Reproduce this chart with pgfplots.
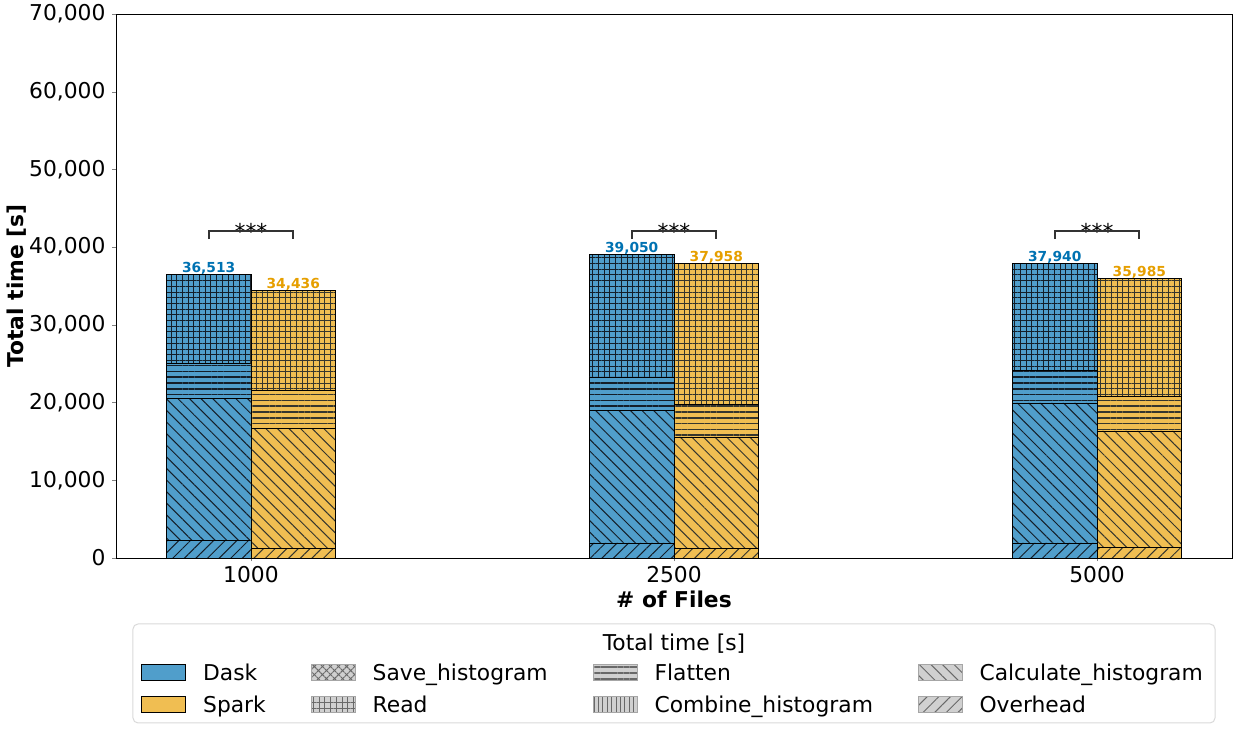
\documentclass[border=0pt]{standalone}
\usepackage{fontspec}
\setmainfont{DejaVu Sans}
\usepackage{pgfplots}
\pgfplotsset{compat=1.18}
\usetikzlibrary{patterns.meta}

\definecolor{daskfill}{RGB}{80,158,203}
\definecolor{sparkfill}{RGB}{240,190,82}
\definecolor{dasktext}{RGB}{0,114,178}
\definecolor{sparktext}{RGB}{230,159,0}
\definecolor{hatchdark}{RGB}{20,30,40}
\definecolor{leggray}{RGB}{208,208,208}
\definecolor{leghatch}{RGB}{105,105,105}

\tikzset{
 pOver/.style={pattern={Lines[angle=45,distance=4.1pt,line width=0.5pt]}},
 pCalc/.style={pattern={Lines[angle=-45,distance=4.1pt,line width=0.5pt]}},
 pFlat/.style={pattern={Lines[angle=0,distance=2.9pt,line width=0.75pt]}},
 pRead/.style={pattern={Hatch[angle=0,distance=2.85pt,line width=0.5pt]}},
 pSave/.style={pattern={Hatch[angle=45,distance=2.85pt,line width=0.45pt]}},
 pComb/.style={pattern={Lines[angle=90,distance=2.2pt,line width=0.5pt]}},
 dbar/.style={preaction={fill=daskfill}, draw=black, line width=0.4pt, pattern color=hatchdark, #1},
 sbar/.style={preaction={fill=sparkfill}, draw=black, line width=0.4pt, pattern color=hatchdark!85!sparkfill, #1},
 lhatch/.style={preaction={fill=leggray}, draw=leggray!80!black, line width=0.3pt, pattern color=leghatch, #1},
 brk/.style={line width=1pt, black!80},
 ast/.style={anchor=base, inner sep=0pt, font=\fontsize{10.9}{13}\selectfont, yshift=-4.35pt},
 tot/.style={anchor=base, inner sep=0pt, yshift=0.85pt, font=\bfseries\fontsize{6.9}{8}\selectfont},
}

\pgfplotsset{
 common/.style={
  scale only axis, width=558pt, height=272pt,
  xmin=-0.319, xmax=2.319, ymin=0, ymax=70000,
  enlargelimits=false,
  ybar stacked, bar width=0.2,
 },
}

\newcommand{\lblfont}{\fontsize{10.9}{13}\selectfont}

\begin{document}
\begin{tikzpicture}
\begin{axis}[
 common,
 xtick={0,1,2}, xticklabels={1000,2500,5000},
 ytick={0,10000,20000,30000,40000,50000,60000,70000},
 scaled y ticks=false,
 /pgf/number format/1000 sep={,},
 /pgf/number format/assume math mode=true,
 tick label style={font=\lblfont},
 xticklabel style={yshift=1pt},
 tick align=outside, major tick length=1.75pt,
 xtick pos=bottom, ytick pos=left,
 xlabel={\bfseries \# of Files},
 ylabel={\bfseries Total time [s]},
 every axis x label/.style={at={(axis description cs:0.5,0)}, yshift=-20.5pt, anchor=center, font=\lblfont},
 every axis y label/.style={at={(axis description cs:0,0.5)}, xshift=-49.5pt, rotate=90, anchor=center, font=\lblfont},
 legend columns=4,
 legend cell align=left,
 legend image code/.code={\draw[#1] (0pt,-3.3pt) rectangle (22pt,4.7pt); \path (28.5pt,0pt);},
 legend style={at={(axis description cs:0,0)}, anchor=north west, xshift=12.5pt, yshift=-51pt,
   draw=none, fill=none, font=\lblfont, inner sep=0pt, row sep=2pt,
   /tikz/every even column/.append style={column sep=20.5pt}},
]
% Dask stacks: Overhead, Calculate_histogram, Flatten, Read
\addplot[forget plot, dbar=pOver] coordinates {(-0.1,2278) (0.9,1930) (1.9,1930)};
\addplot[forget plot, dbar=pCalc] coordinates {(-0.1,18275) (0.9,17074) (1.9,18020)};
\addplot[forget plot, dbar=pFlat] coordinates {(-0.1,4503) (0.9,4288) (1.9,4203)};
\addplot[forget plot, dbar=pRead] coordinates {(-0.1,11457) (0.9,15758) (1.9,13787)};

\addlegendimage{preaction={fill=daskfill}, draw=black, line width=0.4pt}
\addlegendentry{Dask}
\addlegendimage{lhatch=pSave}
\addlegendentry{Save\_histogram}
\addlegendimage{lhatch=pFlat}
\addlegendentry{Flatten}
\addlegendimage{lhatch=pCalc}
\addlegendentry{Calculate\_histogram}
\addlegendimage{preaction={fill=sparkfill}, draw=black, line width=0.4pt}
\addlegendentry{Spark}
\addlegendimage{lhatch=pRead}
\addlegendentry{Read}
\addlegendimage{lhatch=pComb}
\addlegendentry{Combine\_histogram}
\addlegendimage{lhatch=pOver}
\addlegendentry{Overhead}

% significance brackets
\draw[brk] (axis cs:-0.1,41017) -- (axis cs:-0.1,42124) -- (axis cs:0.1,42124) -- (axis cs:0.1,41017);
\draw[brk] (axis cs:0.9,41017) -- (axis cs:0.9,42124) -- (axis cs:1.1,42124) -- (axis cs:1.1,41017);
\draw[brk] (axis cs:1.9,41017) -- (axis cs:1.9,42124) -- (axis cs:2.1,42124) -- (axis cs:2.1,41017);
\node[ast] at (axis cs:0,42124) {***};
\node[ast] at (axis cs:1,42124) {***};
\node[ast] at (axis cs:2,42124) {***};
% total labels
\node[tot, text=dasktext] at (axis cs:-0.1,36513) {36,513};
\node[tot, text=dasktext] at (axis cs:0.9,39050) {39,050};
\node[tot, text=dasktext] at (axis cs:1.9,37940) {37,940};
\node[tot, text=sparktext] at (axis cs:0.1,34436) {34,436};
\node[tot, text=sparktext] at (axis cs:1.1,37958) {37,958};
\node[tot, text=sparktext] at (axis cs:2.1,35985) {35,985};
\end{axis}

\begin{axis}[common, hide axis]
\addplot[sbar=pOver] coordinates {(0.1,1248) (1.1,1248) (2.1,1377)};
\addplot[sbar=pCalc] coordinates {(0.1,15442) (1.1,14325) (2.1,14968)};
\addplot[sbar=pFlat] coordinates {(0.1,4842) (1.1,4207) (2.1,4461)};
\addplot[sbar=pRead] coordinates {(0.1,12904) (1.1,18178) (2.1,15179)};
\end{axis}

% legend frame and title
\draw[rounded corners=2.5pt, draw=black!15, line width=0.5pt] (8.5pt,-33pt) rectangle (549.5pt,-82.5pt);
\node[font=\lblfont, anchor=center] at (279pt,-43pt) {Total time [s]};

\pgfresetboundingbox
\path[use as bounding box] (-58pt,-86.5pt) rectangle (561pt,279pt);
\end{tikzpicture}
\end{document}
